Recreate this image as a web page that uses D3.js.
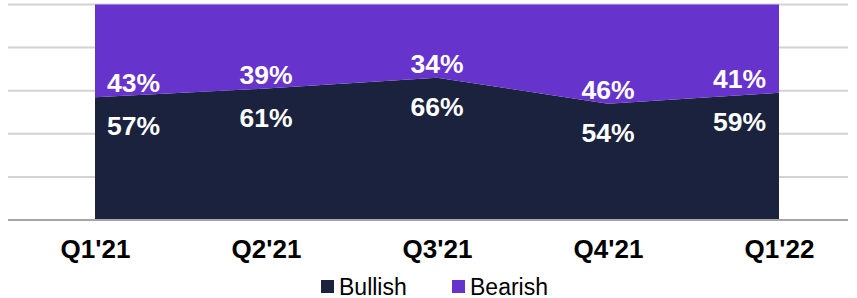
<!DOCTYPE html>
<html>
<head>
<meta charset="utf-8">
<script src="https://cdn.jsdelivr.net/npm/d3@7/dist/d3.min.js"></script>
<style>
  html, body { margin: 0; padding: 0; background: #ffffff; }
  svg { display: block; }
  text { font-family: "Liberation Sans", Arial, sans-serif; }
</style>
</head>
<body>
<svg id="chart" width="857" height="298"></svg>
<script>
const categories = ["Q1'21", "Q2'21", "Q3'21", "Q4'21", "Q1'22"];
const bullish = [57, 61, 66, 54, 59];
const bearish = [43, 39, 34, 46, 41];
const seriesNames = ["Bullish", "Bearish"];
const seriesColors = ["#1a223d", "#6633cc"];
const yTicks = [0, 20, 40, 60, 80, 100];

const svg = d3.select("#chart");
const W = 857;

const x = d3.scalePoint().domain(categories).range([95, 779]);
const y = d3.scaleLinear().domain([0, 100]).range([220, 4.5]);

// gridlines
svg.append("g").selectAll("line")
  .data(yTicks.filter(t => t > 0))
  .join("line")
  .attr("x1", 8).attr("x2", 848)
  .attr("y1", d => y(d)).attr("y2", d => y(d))
  .attr("stroke", "#d3d3d3").attr("stroke-width", 2);

// stacked data
const table = categories.map((c, i) => ({ cat: c, Bullish: bullish[i], Bearish: bearish[i] }));
const stack = d3.stack().keys(seriesNames);
const layers = stack(table);

const area = d3.area()
  .x(d => x(d.data.cat))
  .y0(d => y(d[0]))
  .y1(d => y(d[1]));

svg.append("g").selectAll("path")
  .data(layers)
  .join("path")
  .attr("d", area)
  .attr("fill", (d, i) => seriesColors[i]);

// baseline axis
svg.append("line")
  .attr("x1", 8).attr("x2", 848)
  .attr("y1", y(0)).attr("y2", y(0))
  .attr("stroke", "#a6a6a6").attr("stroke-width", 2);

// data labels
const n = categories.length;
function anchorFor(i) { return i === 0 ? "start" : (i === n - 1 ? "end" : "middle"); }
function dxFor(i) { return i === 0 ? 12 : (i === n - 1 ? -13 : 0); }

const labels = svg.append("g")
  .attr("font-size", "26.5px").attr("font-weight", "bold").attr("fill", "#ffffff");

categories.forEach((c, i) => {
  const boundary = y(bullish[i]);
  labels.append("text")
    .attr("x", x(c) + dxFor(i))
    .attr("y", boundary - 14)
    .attr("text-anchor", anchorFor(i))
    .attr("dominant-baseline", "central")
    .text(bearish[i] + "%");
  labels.append("text")
    .attr("x", x(c) + dxFor(i))
    .attr("y", boundary + 29)
    .attr("text-anchor", anchorFor(i))
    .attr("dominant-baseline", "central")
    .text(bullish[i] + "%");
});

// x axis labels
const xAxis = d3.axisBottom(x).tickSize(0).tickPadding(0);
const gx = svg.append("g").attr("transform", "translate(0,240)").call(xAxis);
gx.select(".domain").remove();
gx.selectAll("text")
  .attr("font-family", "'Liberation Sans', Arial, sans-serif")
  .attr("font-size", "26px")
  .attr("font-weight", "bold")
  .attr("fill", "#000000")
  .attr("dy", "0.7em");

// legend
const legendX = [321, 452];
const legend = svg.append("g");
seriesNames.forEach((s, i) => {
  legend.append("rect")
    .attr("x", legendX[i]).attr("y", 280)
    .attr("width", 13).attr("height", 13)
    .attr("fill", seriesColors[i]);
  legend.append("text")
    .attr("x", legendX[i] + 18).attr("y", 294.5)
    .attr("font-size", "23px")
    .attr("fill", "#000000")
    .text(s);
});
</script>
</body>
</html>
